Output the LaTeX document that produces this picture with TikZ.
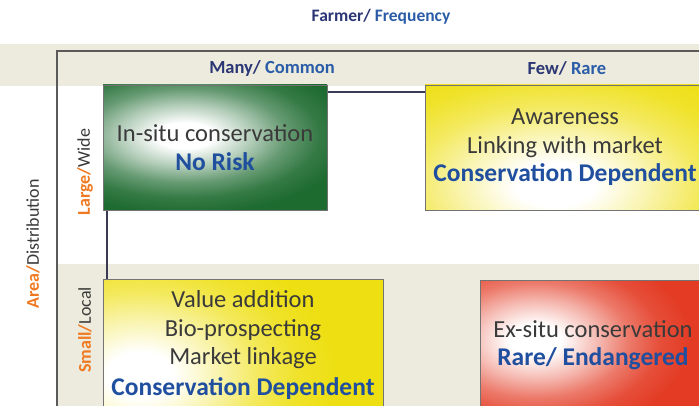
\documentclass[tikz,border=0pt]{standalone}
\usepackage{fontspec}
\setmainfont{Carlito}
\definecolor{navy}{HTML}{2B3675}
\definecolor{blu}{HTML}{2A5CA8}
\definecolor{boxblue}{HTML}{1F4F9E}
\definecolor{orng}{HTML}{F07A22}
\definecolor{txt}{HTML}{3A3A3A}
\definecolor{grn}{HTML}{1E6B30}
\definecolor{yel}{HTML}{EEDF12}
\definecolor{rd}{HTML}{E33B24}
\definecolor{beige}{HTML}{ECEBDD}
\definecolor{framec}{HTML}{5A5A5A}
\definecolor{axisc}{HTML}{3A3A55}
\colorlet{glowc}{grn}
% soft white core fading smoothly into the box colour, well inside the shaded area
\pgfdeclareradialshading[glowc]{softglow}{\pgfpoint{0bp}{0bp}}{%
  color(0bp)=(white); color(2.5bp)=(white);
  color(6bp)=(glowc!35!white); color(9bp)=(glowc!68!white);
  color(12bp)=(glowc!90!white); color(15bp)=(glowc); color(50bp)=(glowc)}
\tikzset{
  cell/.style={draw=black!55, line width=0.7pt, inner sep=0pt, align=center,
    text=txt, font=\fontsize{24.5}{28.5}\selectfont},
  glow/.style n args={4}{path picture={%
    \colorlet{glowc}{#1}%
    \shade[shading=softglow] ([xshift=#2,yshift=#3]path picture bounding box.center) ellipse #4;}},
  head/.style={font=\bfseries\fontsize{18.5}{22}\selectfont, inner sep=0pt},
  side/.style={font=\fontsize{18}{22}\selectfont, inner sep=0pt, rotate=90, text=txt},
  axis/.style={draw=axisc, line width=1.1pt},
  framing/.style={draw=framec, line width=1.2pt}
}
\newcommand{\keyline}[1]{{\bfseries\fontsize{25.5}{28.5}\selectfont\textcolor{boxblue}{#1}}}
\begin{document}
\begin{tikzpicture}[x=1pt,y=-1pt]
\useasboundingbox (0,0) rectangle (699,406);
\fill[white] (0,0) rectangle (699,406);
% shaded bands
\fill[beige] (0,44) rectangle (699,86);
\fill[beige] (57,264) rectangle (699,406);

% frame of the matrix
\coordinate (fbl) at (57,406);
\coordinate (ftl) at (57,51);
\coordinate (ftr) at (699,51);
\draw[framing] (fbl) -- (ftl) -- (ftr);

% axes of the quadrants
\coordinate (origin) at (107,92);
\coordinate (xend) at (699,92);
\coordinate (yend) at (107,406);
\draw[axis] (yend) -- (origin) -- (xend);

% titles
\node[head, font=\bfseries\fontsize{17.5}{21}\selectfont] (title) at (381,17)
  {\textcolor{navy}{Farmer/} \textcolor{blu}{Frequency}};
\node[head] (many) at (272,68) {\textcolor{navy}{Many/} \textcolor{blu}{Common}};
\node[head] (few) at (567,68) {\textcolor{navy}{Few/} \textcolor{blu}{Rare}};

\node[side] (area) at (33,244) {\textcolor{orng}{\bfseries Area/}Distribution};
\node[side] (large) at (85,172) {\textcolor{orng}{\bfseries Large/}Wide};
\node[side] (small) at (85,330) {\textcolor{orng}{\bfseries Small/}Local};

% quadrant boxes
\node[cell, fill=grn, minimum width=224pt, minimum height=125pt,
  glow={grn}{-30pt}{12pt}{(280pt and 130pt)}] (insitu) at (215,147.5)
  {In-situ conservation\\ \keyline{No Risk}};

\node[cell, fill=yel, minimum width=280pt, minimum height=125pt,
  glow={yel}{-10pt}{-37pt}{(400pt and 220pt)}] (aware) at (565,147.5)
  {Awareness\\ Linking with market\\ \keyline{Conservation Dependent}};

\node[cell, fill=yel, minimum width=280pt, minimum height=132pt,
  glow={yel}{-103pt}{-30pt}{(330pt and 230pt)}] (value) at (243,345)
  {Value addition\\ Bio-prospecting\\ Market linkage\\[2pt]
   \keyline{Conservation Dependent}};

\node[cell, fill=rd, minimum width=226pt, minimum height=130pt,
  glow={rd}{-58pt}{5pt}{(260pt and 160pt)}] (exsitu) at (593,345)
  {Ex-situ conservation\\ \keyline{Rare/ Endangered}};
\end{tikzpicture}
\end{document}
